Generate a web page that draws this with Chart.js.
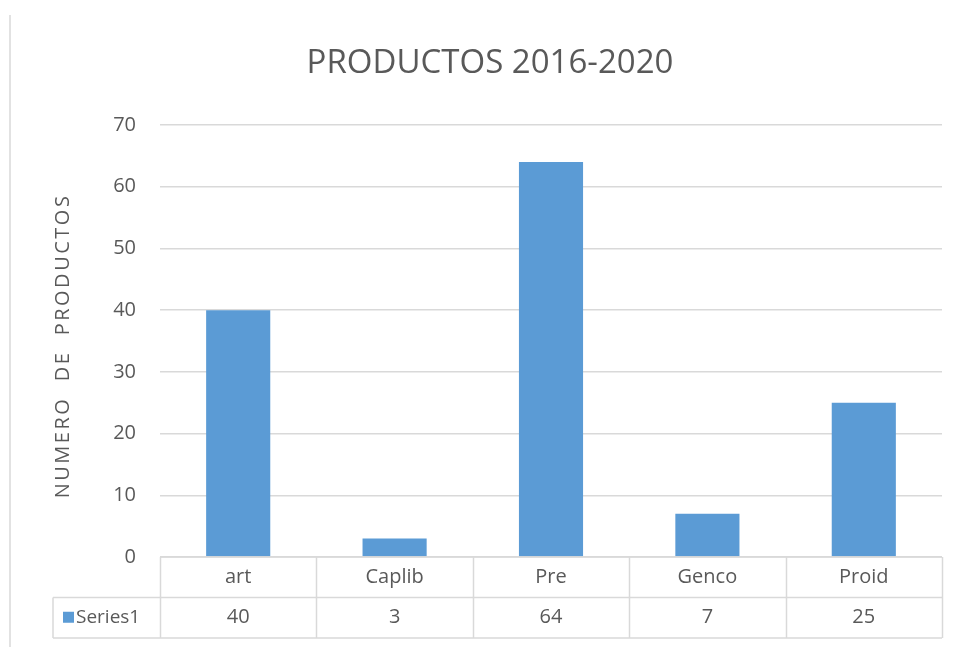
<!DOCTYPE html>
<html>
<head>
<meta charset="utf-8">
<script src="https://cdn.jsdelivr.net/npm/chart.js@4.4.1/dist/chart.umd.min.js"></script>
<style>
  html, body { margin: 0; padding: 0; background: #fff; }
  #wrap { position: relative; width: 955px; height: 647px; }
</style>
</head>
<body>
<div id="wrap"><canvas id="productosChart" width="955" height="647"></canvas></div>
<script>
// Chart data
const categories = ["art", "Caplib", "Pre", "Genco", "Proid"];
const seriesName = "Series1";
const seriesValues = [40, 3, 64, 7, 25];
const yTicks = [0, 10, 20, 30, 40, 50, 60, 70];
const chartTitle = "PRODUCTOS 2016-2020";
const yTitle = "NUMERO DE PRODUCTOS";

const textColor = "#595959";
const gridColor = "#d9d9d9";
const barColor = "#5b9bd5";
const fontFamily = "'Open Sans', 'Liberation Sans', sans-serif";

// Title, y title and the data table under the plot (drawn from the x scale)
const dataTablePlugin = {
  id: "dataTable",
  afterDraw(chart) {
    const ctx = chart.ctx;
    const x = chart.scales.x;
    const area = chart.chartArea;
    const rowH = 40.5;
    const top = area.bottom;
    const mid = top + rowH;
    const bottom = mid + rowH;
    const tableLeft = 53;
    const step = x.getPixelForValue(1) - x.getPixelForValue(0);

    ctx.save();
    ctx.strokeStyle = gridColor;
    ctx.lineWidth = 1.5;
    ctx.beginPath();
    // horizontal lines
    ctx.moveTo(area.left, top); ctx.lineTo(area.right, top);
    ctx.moveTo(tableLeft, mid); ctx.lineTo(area.right, mid);
    ctx.moveTo(tableLeft, bottom); ctx.lineTo(area.right, bottom);
    // vertical lines
    ctx.moveTo(tableLeft, mid); ctx.lineTo(tableLeft, bottom);
    for (let i = 0; i <= categories.length; i++) {
      const px = Math.round(x.getPixelForValue(i) - step / 2) + 0.5;
      ctx.moveTo(px, top); ctx.lineTo(px, bottom);
    }
    // partial outer border on the left
    ctx.moveTo(10, 15); ctx.lineTo(10, 647);
    ctx.stroke();

    // chart title
    ctx.fillStyle = textColor;
    ctx.font = "33px " + fontFamily;
    ctx.textAlign = "center";
    ctx.textBaseline = "middle";
    ctx.fillText(chartTitle, 490, 64);

    ctx.font = "20px " + fontFamily;
    categories.forEach(function (c, i) {
      const cx = x.getPixelForValue(i);
      ctx.fillText(c, cx, (top + mid) / 2);
      ctx.fillText(String(seriesValues[i]), cx, (mid + bottom) / 2);
    });

    // legend key
    ctx.fillStyle = barColor;
    ctx.fillRect(tableLeft + 10, (mid + bottom) / 2 - 6, 11, 11);
    ctx.fillStyle = textColor;
    ctx.textAlign = "left";
    ctx.font = "19px " + fontFamily;
    ctx.fillText(seriesName, tableLeft + 23, (mid + bottom) / 2);

    // y axis title, spaced out like the original
    ctx.translate(63, 346);
    ctx.rotate(-Math.PI / 2);
    ctx.font = "20px " + fontFamily;
    ctx.letterSpacing = "2.5px";
    ctx.textAlign = "center";
    ctx.fillText(yTitle.replace(/ /g, "  "), 0, 0);
    ctx.restore();
  },
};

new Chart(document.getElementById("productosChart").getContext("2d"), {
  type: "bar",
  data: {
    labels: categories,
    datasets: [
      {
        label: seriesName,
        data: seriesValues,
        backgroundColor: barColor,
        borderWidth: 0,
        categoryPercentage: 1,
        barPercentage: 0.41,
      },
    ],
  },
  options: {
    responsive: false,
    animation: false,
    layout: {
      padding: { left: 0, right: 13, top: 125, bottom: 0 },
    },
    plugins: {
      legend: { display: false },
      tooltip: { enabled: false },
      title: { display: false },
    },
    scales: {
      x: {
        grid: { display: false, drawTicks: false },
        border: { display: false },
        ticks: { display: false },
        afterFit: function (scale) {
          scale.height = 90;
        },
      },
      y: {
        min: 0,
        max: 70,
        afterBuildTicks: function (scale) {
          scale.ticks = yTicks.map(function (v) { return { value: v }; });
        },
        grid: { color: gridColor, lineWidth: 1.5, drawTicks: false },
        border: { display: false },
        ticks: {
          color: textColor,
          padding: 24,
          font: { family: fontFamily, size: 20 },
        },
        afterFit: function (scale) {
          scale.width = 160;
        },
      },
    },
  },
  plugins: [dataTablePlugin],
});
</script>
</body>
</html>
